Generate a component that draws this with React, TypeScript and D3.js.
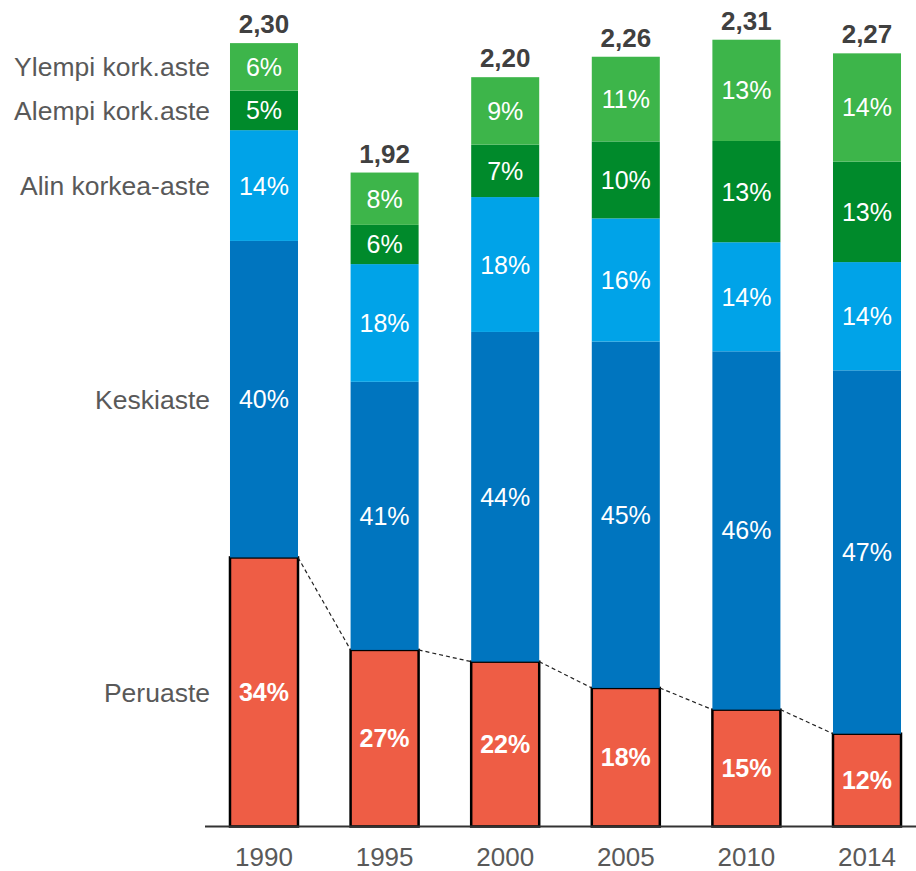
import React from "react";
import * as d3 from "d3";

const years = ["1990", "1995", "2000", "2005", "2010", "2014"];
const totals = [2.3, 1.92, 2.2, 2.26, 2.31, 2.27];
const totalLabels = ["2,30", "1,92", "2,20", "2,26", "2,31", "2,27"];
const categories = ["Peruaste", "Keskiaste", "Alin korkea-aste", "Alempi kork.aste", "Ylempi kork.aste"];
const peruaste = [34, 27, 22, 18, 15, 12];
const keskiaste = [40, 41, 44, 45, 46, 47];
const alin = [14, 18, 18, 16, 14, 14];
const alempi = [5, 6, 7, 10, 13, 13];
const ylempi = [6, 8, 9, 11, 13, 14];
const colors = ["#EE5D45", "#0075BF", "#00A3E8", "#008A2B", "#3DB54A"];

const W = 916;
const H = 871;

export default function App() {
  const series = [peruaste, keskiaste, alin, alempi, ylempi];
  const x = d3
    .scaleBand<string>()
    .domain(years)
    .range([203.7, 927.3])
    .paddingInner(0.436)
    .paddingOuter(0.218);
  const y = d3.scaleLinear().domain([0, 2.4]).range([826.5, 826.5 - 2.4 * 340.6]);
  const bw = x.bandwidth();

  const stacks = years.map((yr, i) => {
    const pcts = series.map((s) => s[i]);
    const sum = d3.sum(pcts);
    let acc = 0;
    return pcts.map((p, k) => {
      const v0 = acc;
      acc += (p / sum) * totals[i];
      return { k, p, v0, v1: acc };
    });
  });

  const font = "'Liberation Sans', Arial, sans-serif";

  return (
    <svg
      width={W}
      height={H}
      style={{ position: "absolute", left: 0, top: 0, display: "block", background: "#fff" }}
      fontFamily={font}
    >
      {years.map((yr, i) => (
        <g key={yr}>
          {stacks[i].map((s) => (
            <rect
              key={s.k}
              x={x(yr)}
              y={y(s.v1)}
              width={bw}
              height={y(s.v0) - y(s.v1)}
              fill={colors[s.k]}
              stroke={s.k === 0 ? "#000" : "none"}
              strokeWidth={s.k === 0 ? 2.5 : 0}
            />
          ))}
          {stacks[i].map((s) => (
            <text
              key={"t" + s.k}
              x={(x(yr) as number) + bw / 2}
              y={(y(s.v0) + y(s.v1)) / 2}
              dy="0.36em"
              textAnchor="middle"
              fill="#fff"
              fontSize={25}
              fontWeight={s.k === 0 ? "bold" : "normal"}
            >
              {s.p + "%"}
            </text>
          ))}
          <text
            x={(x(yr) as number) + bw / 2}
            y={y(totals[i]) - 10}
            textAnchor="middle"
            fill="#404040"
            fontSize={26}
            fontWeight="bold"
          >
            {totalLabels[i]}
          </text>
          <text
            x={(x(yr) as number) + bw / 2}
            y={866}
            textAnchor="middle"
            fill="#595959"
            fontSize={26}
          >
            {yr}
          </text>
        </g>
      ))}
      {years.slice(0, -1).map((yr, i) => (
        <line
          key={"d" + yr}
          x1={(x(yr) as number) + bw}
          y1={y(stacks[i][0].v1)}
          x2={x(years[i + 1]) as number}
          y2={y(stacks[i + 1][0].v1)}
          stroke="#222"
          strokeWidth={1.2}
          strokeDasharray="4,3"
        />
      ))}
      <line x1={205} x2={916} y1={y(0)} y2={y(0)} stroke="#333" strokeWidth={2} />
      {categories.map((c, k) => {
        const s = stacks[0][k];
        return (
          <text
            key={c}
            x={210}
            y={(y(s.v0) + y(s.v1)) / 2}
            dy="0.36em"
            textAnchor="end"
            fill="#595959"
            fontSize={26.5}
          >
            {c}
          </text>
        );
      })}
    </svg>
  );
}
